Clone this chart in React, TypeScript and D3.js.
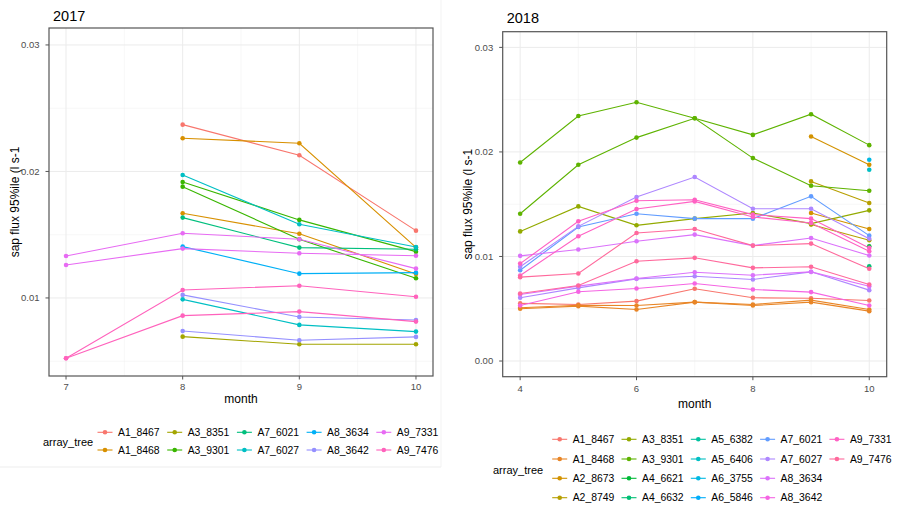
import * as d3 from "d3";

// 2017 panel
const TREES_2017 = [
  "A1_8467", "A1_8468", "A3_8351", "A3_9301", "A7_6021",
  "A7_6027", "A8_3634", "A8_3642", "A9_7331", "A9_7476",
];
const MONTHS_2017 = [7, 8, 9, 10];
const X_TICKS_2017 = [7, 8, 9, 10];
const Y_TICKS_2017 = [0.01, 0.02, 0.03];
const Y_LABELS_2017 = ["0.01", "0.02", "0.03"];
// [tree, values by month] — one row per sensor line, null = no reading
const SERIES_2017: [string, (number | null)[]][] = [
  ["A1_8467", [null, 0.0237, 0.02128, 0.01532]],
  ["A1_8468", [null, 0.02262, 0.02223, 0.014]],
  ["A1_8468", [null, 0.0167, 0.01508, 0.0119]],
  ["A3_8351", [null, 0.00694, 0.00634, 0.00634]],
  ["A3_9301", [null, 0.01917, 0.01617, 0.01366]],
  ["A3_9301", [null, 0.0188, 0.01464, 0.01156]],
  ["A7_6021", [null, 0.01635, 0.01398, 0.01385]],
  ["A7_6027", [null, 0.01972, 0.01583, 0.01403]],
  ["A7_6027", [null, 0.00989, 0.00787, 0.00734]],
  ["A8_3634", [null, 0.01406, 0.01192, 0.012]],
  ["A8_3642", [null, 0.01024, 0.0085, 0.00826]],
  ["A8_3642", [null, 0.00739, 0.00666, 0.00692]],
  ["A9_7331", [0.01332, 0.01511, 0.01464, 0.01232]],
  ["A9_7331", [0.01261, 0.0139, 0.01353, 0.01334]],
  ["A9_7476", [0.00523, 0.01063, 0.01097, 0.0101]],
  ["A9_7476", [0.00523, 0.0086, 0.00892, 0.00813]],
];

// 2018 panel
const TREES_2018 = [
  "A1_8467", "A1_8468", "A2_8673", "A2_8749", "A3_8351", "A3_9301",
  "A4_6621", "A4_6632", "A5_6382", "A5_6406", "A6_3755", "A6_5846",
  "A7_6021", "A7_6027", "A8_3634", "A8_3642", "A9_7331", "A9_7476",
];
const MONTHS_2018 = [4, 5, 6, 7, 8, 9, 10];
const X_TICKS_2018 = [4, 6, 8, 10];
const Y_TICKS_2018 = [0, 0.01, 0.02, 0.03];
const Y_LABELS_2018 = ["0.00", "0.01", "0.02", "0.03"];
const SERIES_2018: [string, (number | null)[]][] = [
  ["A1_8467", [0.00551, 0.00541, 0.00573, 0.00691, 0.00605, 0.00601, 0.00579]],
  ["A1_8468", [0.0051, 0.00534, 0.00531, 0.00563, 0.00541, 0.00582, 0.00493]],
  ["A1_8468", [0.005, 0.00525, 0.00493, 0.00563, 0.00531, 0.00563, 0.00477]],
  ["A2_8673", [null, null, null, null, null, 0.02147, 0.01877]],
  ["A2_8673", [null, null, null, null, null, 0.01416, 0.01263]],
  ["A2_8749", [null, null, null, null, null, 0.01718, 0.01511]],
  ["A2_8749", [null, null, null, null, null, 0.01305, 0.01155]],
  ["A3_8351", [0.0124, 0.01479, 0.01298, 0.01362, 0.01416, 0.01314, 0.01441]],
  ["A3_9301", [0.01899, 0.02344, 0.02475, 0.02322, 0.02163, 0.02361, 0.02065]],
  ["A3_9301", [0.01409, 0.01877, 0.02137, 0.02322, 0.01941, 0.01677, 0.01629]],
  ["A4_6621", [null, null, null, null, null, null, 0.01097]],
  ["A4_6632", [null, null, null, null, null, null, 0.00907]],
  ["A5_6406", [null, null, null, null, null, null, 0.01829]],
  ["A6_3755", [null, null, null, null, null, null, 0.01925]],
  ["A7_6021", [0.00868, 0.01282, 0.01409, 0.01362, 0.01362, 0.01575, 0.01199]],
  ["A7_6027", [0.00901, 0.01288, 0.01569, 0.0176, 0.01457, 0.01457, 0.0117]],
  ["A7_6027", [0.00605, 0.007, 0.00786, 0.00811, 0.0078, 0.00853, 0.00678]],
  ["A8_3634", [0.01006, 0.01066, 0.01145, 0.01209, 0.01104, 0.01177, 0.01009]],
  ["A8_3634", [0.00636, 0.00716, 0.00789, 0.00849, 0.00821, 0.00853, 0.00716]],
  ["A8_3642", [0.00531, 0.00662, 0.00694, 0.00741, 0.00684, 0.00659, 0.00531]],
  ["A9_7331", [0.00932, 0.01336, 0.01533, 0.01543, 0.014, 0.01362, 0.01082]],
  ["A9_7331", [0.00818, 0.01193, 0.01454, 0.01527, 0.01378, 0.01321, 0.0105]],
  ["A9_7476", [0.00802, 0.00837, 0.01225, 0.01263, 0.01104, 0.01123, 0.00882]],
  ["A9_7476", [0.00646, 0.00722, 0.00954, 0.00987, 0.00891, 0.00901, 0.00732]],
];

const FONT = "'Liberation Sans', Arial, sans-serif";

// ggplot's hue_pal: hcl() is polar LUV, not d3's polar Lab
function hclLuv(h: number, c = 100, l = 65) {
  const hr = (h * Math.PI) / 180;
  const U = c * Math.cos(hr);
  const V = c * Math.sin(hr);
  const Xn = 95.047, Yn = 100, Zn = 108.883;
  const Y = l > 8 ? Yn * Math.pow((l + 16) / 116, 3) : (Yn * l) / 903.3;
  const d = Xn + 15 * Yn + 3 * Zn;
  const u = U / (13 * l) + (4 * Xn) / d;
  const v = V / (13 * l) + (9 * Yn) / d;
  const X = (Y * 9 * u) / (4 * v);
  const Z = (Y * (12 - 3 * u - 20 * v)) / (4 * v);
  const x = X / 100, y = Y / 100, z = Z / 100;
  const lin = [
    3.240479 * x - 1.53715 * y - 0.498535 * z,
    -0.969256 * x + 1.875992 * y + 0.041556 * z,
    0.055648 * x - 0.204043 * y + 1.057311 * z,
  ];
  const [r, g, b] = lin.map((t) => {
    const s = t <= 0.0031308 ? 12.92 * t : 1.055 * Math.pow(t, 1 / 2.4) - 0.055;
    return Math.round(Math.max(0, Math.min(1, s)) * 255);
  });
  return d3.rgb(r, g, b).formatHex();
}

function huePal(n: number) {
  return d3.range(n).map((i) => hclLuv(15 + (360 / n) * i));
}

interface PanelProps {
  title: string;
  titleY: number;
  box: { x0: number; x1: number; y0: number; y1: number };
  xDomain: [number, number];
  yDomain: [number, number];
  xTicks: number[];
  yTicks: number[];
  yLabels: string[];
  months: number[];
  series: [string, (number | null)[]][];
  trees: string[];
  legend: { rows: number; textX: number; colStep: number; rowY: number[]; titleX: number; titleY: number };
  xLabelY: number;
  xTitleY: number;
  yTitleX: number;
}

function Panel(p: PanelProps) {
  const { box } = p;
  const x = d3.scaleLinear().domain(p.xDomain).range([box.x0, box.x1]);
  const y = d3.scaleLinear().domain(p.yDomain).range([box.y1, box.y0]);
  const colors = huePal(p.trees.length);
  const color = d3.scaleOrdinal<string, string>().domain(p.trees).range(colors);

  const xMinor = p.xTicks.slice(1).map((t, i) => (t + p.xTicks[i]) / 2);
  const yStep = p.yTicks[1] - p.yTicks[0];
  const yMinor = [p.yTicks[0] - yStep / 2, ...p.yTicks.map((t) => t + yStep / 2)].filter(
    (t) => t > p.yDomain[0] && t < p.yDomain[1],
  );

  const line = d3
    .line<number | null>()
    .defined((d) => d != null)
    .x((_, i) => x(p.months[i]))
    .y((d) => y(d as number));

  const cx = (box.x0 + box.x1) / 2;
  const cy = (box.y0 + box.y1) / 2;

  return (
    <g>
      <text x={box.x0 + 4} y={p.titleY} fontSize={14.5} fill="#000" fontFamily={FONT}>
        {p.title}
      </text>
      {/* grid */}
      {xMinor.map((t) => (
        <line key={"xm" + t} x1={x(t)} x2={x(t)} y1={box.y0} y2={box.y1} stroke="#F2F2F2" strokeWidth={0.6} />
      ))}
      {yMinor.map((t) => (
        <line key={"ym" + t} x1={box.x0} x2={box.x1} y1={y(t)} y2={y(t)} stroke="#F2F2F2" strokeWidth={0.6} />
      ))}
      {p.xTicks.map((t) => (
        <line key={"xg" + t} x1={x(t)} x2={x(t)} y1={box.y0} y2={box.y1} stroke="#EBEBEB" strokeWidth={1} />
      ))}
      {p.yTicks.map((t) => (
        <line key={"yg" + t} x1={box.x0} x2={box.x1} y1={y(t)} y2={y(t)} stroke="#EBEBEB" strokeWidth={1} />
      ))}
      {/* lines, then points */}
      {p.series.map(([tree, vals], i) => (
        <path key={"l" + i} d={line(vals) ?? ""} fill="none" stroke={color(tree)} strokeWidth={1.1} />
      ))}
      {p.series.map(([tree, vals], i) =>
        vals.map((v, j) =>
          v == null ? null : (
            <circle key={`p${i}-${j}`} cx={x(p.months[j])} cy={y(v)} r={2.3} fill={color(tree)} />
          ),
        ),
      )}
      <rect
        x={box.x0}
        y={box.y0}
        width={box.x1 - box.x0}
        height={box.y1 - box.y0}
        fill="none"
        stroke="#555"
        strokeWidth={1.2}
      />
      {/* axes */}
      {p.xTicks.map((t) => (
        <g key={"xt" + t}>
          <line x1={x(t)} x2={x(t)} y1={box.y1} y2={box.y1 + 3.5} stroke="#555" strokeWidth={1} />
          <text x={x(t)} y={p.xLabelY} textAnchor="middle" fontSize={9.5} fill="#4D4D4D" fontFamily={FONT}>
            {t}
          </text>
        </g>
      ))}
      {p.yTicks.map((t, i) => (
        <g key={"yt" + t}>
          <line x1={box.x0 - 3.5} x2={box.x0} y1={y(t)} y2={y(t)} stroke="#555" strokeWidth={1} />
          <text
            x={box.x0 - 9.5}
            y={y(t)}
            dy="0.35em"
            textAnchor="end"
            fontSize={9.5}
            fill="#4D4D4D"
            fontFamily={FONT}
          >
            {p.yLabels[i]}
          </text>
        </g>
      ))}
      <text x={cx} y={p.xTitleY} textAnchor="middle" fontSize={12} fill="#000" fontFamily={FONT}>
        month
      </text>
      <text
        transform={`translate(${p.yTitleX},${cy}) rotate(-90)`}
        textAnchor="middle"
        fontSize={12}
        fill="#000"
        fontFamily={FONT}
      >
        sap flux 95%ile (l s-1
      </text>
      {/* legend, filled column by column */}
      <text x={p.legend.titleX} y={p.legend.titleY} dy="0.35em" fontSize={11} fill="#000" fontFamily={FONT}>
        array_tree
      </text>
      {p.trees.map((tree, i) => {
        const col = Math.floor(i / p.legend.rows);
        const row = i % p.legend.rows;
        const tx = p.legend.textX + col * p.legend.colStep;
        const ty = p.legend.rowY[row];
        const kx = tx - 13;
        return (
          <g key={"lg" + tree}>
            <line x1={kx - 7.5} x2={kx + 7.5} y1={ty} y2={ty} stroke={color(tree)} strokeWidth={1.1} />
            <circle cx={kx} cy={ty} r={2.3} fill={color(tree)} />
            <text x={tx} y={ty} dy="0.35em" fontSize={10.4} fill="#000" fontFamily={FONT}>
              {tree}
            </text>
          </g>
        );
      })}
    </g>
  );
}

export default function App() {
  return (
    <svg
      width={899}
      height={510}
      viewBox="0 0 899 510"
      style={{ position: "absolute", left: 0, top: 0, background: "#fff" }}
    >
      <rect width={899} height={510} fill="#fff" />
      <line x1={0} x2={441} y1={467} y2={467} stroke="#EDEDED" />
      <line x1={441} x2={441} y1={0} y2={467} stroke="#F3F3F3" />
      <Panel
        title="2017"
        titleY={20.7}
        box={{ x0: 49, x1: 433, y0: 28, y1: 376 }}
        xDomain={[6.854, 10.146]}
        yDomain={[0.00383, 0.03134]}
        xTicks={X_TICKS_2017}
        yTicks={Y_TICKS_2017}
        yLabels={Y_LABELS_2017}
        months={MONTHS_2017}
        series={SERIES_2017}
        trees={TREES_2017}
        legend={{ rows: 2, textX: 118, colStep: 69.7, rowY: [432.3, 450], titleX: 43, titleY: 442 }}
        xLabelY={390}
        xTitleY={403}
        yTitleX={19}
      />
      <Panel
        title="2018"
        titleY={22.7}
        box={{ x0: 502.7, x1: 886.7, y0: 31.7, y1: 376.7 }}
        xDomain={[3.7, 10.3]}
        yDomain={[-0.0015, 0.0315]}
        xTicks={X_TICKS_2018}
        yTicks={Y_TICKS_2018}
        yLabels={Y_LABELS_2018}
        months={MONTHS_2018}
        series={SERIES_2018}
        trees={TREES_2018}
        legend={{ rows: 4, textX: 572.7, colStep: 69.3, rowY: [439.3, 459, 478.3, 497.7], titleX: 493, titleY: 470 }}
        xLabelY={391.5}
        xTitleY={408}
        yTitleX={472}
      />
    </svg>
  );
}
